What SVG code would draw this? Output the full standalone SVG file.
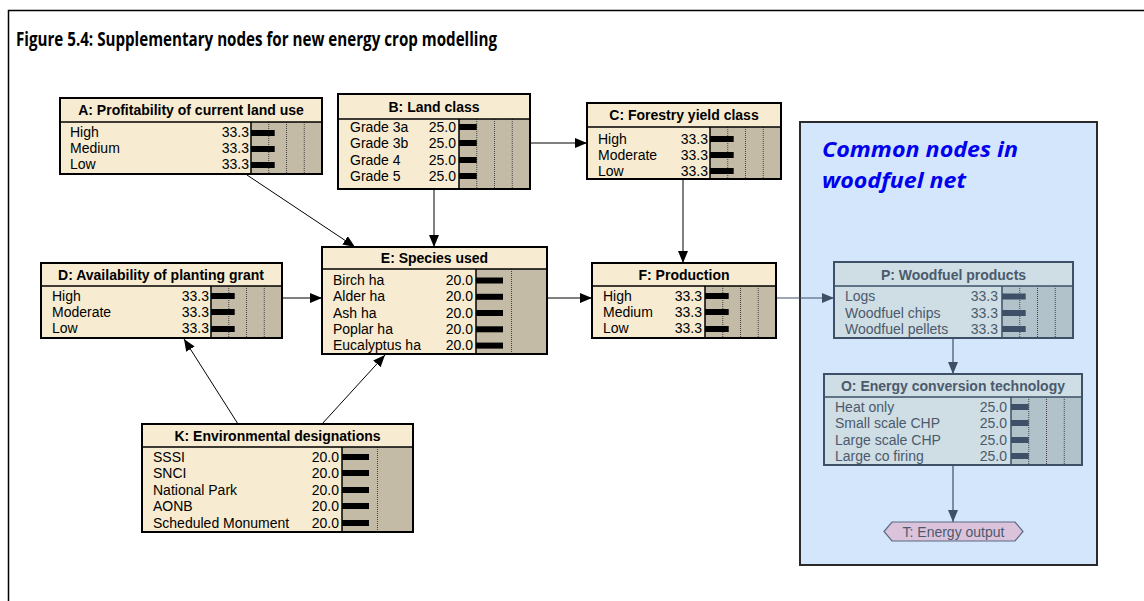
<svg xmlns="http://www.w3.org/2000/svg" width="1144" height="601" viewBox="0 0 1144 601">
<defs>
<style>
.frame{fill:#fff;stroke:#000;stroke-width:1.5}
.nbox{fill:#f7ecd2;stroke:#000;stroke-width:2}
.npanel{fill:#c4bba7}
.grid{stroke:#444;stroke-width:1;stroke-dasharray:1,1}
.bar{fill:#000}
.hdr{font-family:"Liberation Sans",Arial,sans-serif;font-size:14px;font-weight:bold;fill:#000;text-anchor:middle}
.lbl{font-family:"Liberation Sans",Arial,sans-serif;font-size:14px;fill:#000}
.val{font-family:"Liberation Sans",Arial,sans-serif;font-size:14px;fill:#000;text-anchor:end}
.bbox{fill:#cfdde4;stroke:#3d5068;stroke-width:2}
.bpanel{fill:#b1c2ca}
.bbar{fill:#3d5068}
.bhdr{font-family:"Liberation Sans",Arial,sans-serif;font-size:14px;font-weight:bold;fill:#4a5a6c;text-anchor:middle}
.blbl{font-family:"Liberation Sans",Arial,sans-serif;font-size:14px;fill:#4a5a6c}
.bval{font-family:"Liberation Sans",Arial,sans-serif;font-size:14px;fill:#4a5a6c;text-anchor:end}
.edge{stroke:#000;stroke-width:1;fill:none}
.bedge{stroke:#3d5068;stroke-width:1.2;fill:none}
</style>
<marker id="ah" viewBox="0 0 12 10" refX="12" refY="5" markerWidth="12" markerHeight="10" markerUnits="userSpaceOnUse" orient="auto">
<path d="M0,0 L12,5 L0,10 z" fill="#000"/>
</marker>
<marker id="bah" viewBox="0 0 12 10" refX="12" refY="5" markerWidth="12" markerHeight="10" markerUnits="userSpaceOnUse" orient="auto">
<path d="M0,0 L12,5 L0,10 z" fill="#3d5068"/>
</marker>
</defs>

<rect x="8.5" y="10.5" width="1150" height="600" class="frame"/>
<text x="16" y="46" font-family="'Open Sans','Liberation Sans',sans-serif" font-size="19" font-weight="bold" textLength="481" lengthAdjust="spacingAndGlyphs">Figure 5.4: Supplementary nodes for new energy crop modelling</text>

<g id="panel">
<rect x="800" y="122" width="297" height="443" fill="#d4e6fb" stroke="#2a2a2a" stroke-width="2"/>
<text x="822" y="157" font-family="'Open Sans','Liberation Sans',sans-serif" font-size="22" font-weight="bold" font-style="italic" fill="#0000ee" textLength="196" lengthAdjust="spacingAndGlyphs">Common nodes in</text>
<text x="822" y="188" font-family="'Open Sans','Liberation Sans',sans-serif" font-size="22" font-weight="bold" font-style="italic" fill="#0000ee" textLength="144" lengthAdjust="spacingAndGlyphs">woodfuel net</text>
</g>

<g id="connectors">
<line x1="247" y1="175" x2="355" y2="247" class="edge" marker-end="url(#ah)"/>
<line x1="434" y1="189" x2="434" y2="247" class="edge" marker-end="url(#ah)"/>
<line x1="530" y1="143" x2="587" y2="143" class="edge" marker-end="url(#ah)"/>
<line x1="683" y1="179" x2="683" y2="263" class="edge" marker-end="url(#ah)"/>
<line x1="282" y1="298" x2="322" y2="298" class="edge" marker-end="url(#ah)"/>
<line x1="547" y1="298" x2="592" y2="298" class="edge" marker-end="url(#ah)"/>
<line x1="238" y1="424" x2="184" y2="339" class="edge" marker-end="url(#ah)"/>
<line x1="322" y1="424" x2="385" y2="355" class="edge" marker-end="url(#ah)"/>
<line x1="776" y1="298" x2="834" y2="298" class="bedge" marker-end="url(#bah)"/>
<line x1="953" y1="338" x2="953" y2="374" class="bedge" marker-end="url(#bah)"/>
<line x1="953" y1="465" x2="953" y2="522" class="bedge" marker-end="url(#bah)"/>
</g>

<g id="nodeA">
<rect x="60" y="98" width="262" height="76" class="nbox"/>
<rect x="251" y="122" width="71" height="52" class="npanel"/>
<line x1="268.75" y1="122" x2="268.75" y2="174" class="grid"/>
<line x1="286.5" y1="122" x2="286.5" y2="174" class="grid"/>
<line x1="304.25" y1="122" x2="304.25" y2="174" class="grid"/>
<line x1="60" y1="122" x2="322" y2="122" stroke="#000" stroke-width="1.5"/>
<line x1="251" y1="122" x2="251" y2="174" stroke="#000" stroke-width="1.5"/>
<rect x="60" y="98" width="262" height="76" fill="none" stroke="#000" stroke-width="2"/>
<text x="191" y="115" class="hdr">A: Profitability of current land use</text>
<text x="70" y="137" class="lbl">High</text><text x="249" y="137" class="val">33.3</text><rect x="251" y="130" width="23.7" height="6" class="bar"/>
<text x="70" y="153" class="lbl">Medium</text><text x="249" y="153" class="val">33.3</text><rect x="251" y="146" width="23.7" height="6" class="bar"/>
<text x="70" y="169" class="lbl">Low</text><text x="249" y="169" class="val">33.3</text><rect x="251" y="162" width="23.7" height="6" class="bar"/>
</g>

<g id="nodeB">
<rect x="338" y="94" width="192" height="95" class="nbox"/>
<rect x="459" y="119" width="71" height="70" class="npanel"/>
<line x1="476.75" y1="119" x2="476.75" y2="189" class="grid"/>
<line x1="494.5" y1="119" x2="494.5" y2="189" class="grid"/>
<line x1="512.25" y1="119" x2="512.25" y2="189" class="grid"/>
<line x1="338" y1="119" x2="530" y2="119" stroke="#000" stroke-width="1.5"/>
<line x1="459" y1="119" x2="459" y2="189" stroke="#000" stroke-width="1.5"/>
<rect x="338" y="94" width="192" height="95" fill="none" stroke="#000" stroke-width="2"/>
<text x="434" y="112" class="hdr">B: Land class</text>
<text x="350" y="132" class="lbl">Grade 3a</text><text x="456" y="132" class="val">25.0</text><rect x="459" y="124" width="17.75" height="6" class="bar"/>
<text x="350" y="148" class="lbl">Grade 3b</text><text x="456" y="148" class="val">25.0</text><rect x="459" y="140" width="17.75" height="6" class="bar"/>
<text x="350" y="165" class="lbl">Grade 4</text><text x="456" y="165" class="val">25.0</text><rect x="459" y="157" width="17.75" height="6" class="bar"/>
<text x="350" y="181" class="lbl">Grade 5</text><text x="456" y="181" class="val">25.0</text><rect x="459" y="173" width="17.75" height="6" class="bar"/>
</g>

<g id="nodeC">
<rect x="587" y="103" width="194" height="76" class="nbox"/>
<rect x="710" y="127" width="71" height="52" class="npanel"/>
<line x1="727.75" y1="127" x2="727.75" y2="179" class="grid"/>
<line x1="745.5" y1="127" x2="745.5" y2="179" class="grid"/>
<line x1="763.25" y1="127" x2="763.25" y2="179" class="grid"/>
<line x1="587" y1="127" x2="781" y2="127" stroke="#000" stroke-width="1.5"/>
<line x1="710" y1="127" x2="710" y2="179" stroke="#000" stroke-width="1.5"/>
<rect x="587" y="103" width="194" height="76" fill="none" stroke="#000" stroke-width="2"/>
<text x="684" y="120" class="hdr">C: Forestry yield class</text>
<text x="598" y="144" class="lbl">High</text><text x="708" y="144" class="val">33.3</text><rect x="710" y="136" width="23.7" height="6" class="bar"/>
<text x="598" y="160" class="lbl">Moderate</text><text x="708" y="160" class="val">33.3</text><rect x="710" y="152" width="23.7" height="6" class="bar"/>
<text x="598" y="176" class="lbl">Low</text><text x="708" y="176" class="val">33.3</text><rect x="710" y="168" width="23.7" height="6" class="bar"/>
</g>

<g id="nodeD">
<rect x="41" y="263" width="241" height="75" class="nbox"/>
<rect x="211" y="286" width="71" height="52" class="npanel"/>
<line x1="228.75" y1="286" x2="228.75" y2="338" class="grid"/>
<line x1="246.5" y1="286" x2="246.5" y2="338" class="grid"/>
<line x1="264.25" y1="286" x2="264.25" y2="338" class="grid"/>
<line x1="41" y1="286" x2="282" y2="286" stroke="#000" stroke-width="1.5"/>
<line x1="211" y1="286" x2="211" y2="338" stroke="#000" stroke-width="1.5"/>
<rect x="41" y="263" width="241" height="75" fill="none" stroke="#000" stroke-width="2"/>
<text x="161" y="280" class="hdr">D: Availability of planting grant</text>
<text x="52" y="301" class="lbl">High</text><text x="209" y="301" class="val">33.3</text><rect x="211" y="293" width="23.7" height="6" class="bar"/>
<text x="52" y="317" class="lbl">Moderate</text><text x="209" y="317" class="val">33.3</text><rect x="211" y="309" width="23.7" height="6" class="bar"/>
<text x="52" y="333" class="lbl">Low</text><text x="209" y="333" class="val">33.3</text><rect x="211" y="326" width="23.7" height="6" class="bar"/>
</g>

<g id="nodeE">
<rect x="322" y="247" width="225" height="107" class="nbox"/>
<rect x="476" y="269" width="71" height="85" class="npanel"/>
<line x1="511.5" y1="269" x2="511.5" y2="354" class="grid"/>
<line x1="322" y1="269" x2="547" y2="269" stroke="#000" stroke-width="1.5"/>
<line x1="476" y1="269" x2="476" y2="354" stroke="#000" stroke-width="1.5"/>
<rect x="322" y="247" width="225" height="107" fill="none" stroke="#000" stroke-width="2"/>
<text x="434.5" y="263" class="hdr">E: Species used</text>
<text x="333" y="285" class="lbl">Birch ha</text><text x="473" y="285" class="val">20.0</text><rect x="476" y="277.5" width="27" height="6" class="bar"/>
<text x="333" y="301" class="lbl">Alder ha</text><text x="473" y="301" class="val">20.0</text><rect x="476" y="293.8" width="27" height="6" class="bar"/>
<text x="333" y="317.5" class="lbl">Ash ha</text><text x="473" y="317.5" class="val">20.0</text><rect x="476" y="310" width="27" height="6" class="bar"/>
<text x="333" y="334" class="lbl">Poplar ha</text><text x="473" y="334" class="val">20.0</text><rect x="476" y="326.3" width="27" height="6" class="bar"/>
<text x="333" y="350" class="lbl">Eucalyptus ha</text><text x="473" y="350" class="val">20.0</text><rect x="476" y="342.6" width="27" height="6" class="bar"/>
</g>

<g id="nodeF">
<rect x="592" y="263" width="184" height="75" class="nbox"/>
<rect x="705" y="286" width="71" height="52" class="npanel"/>
<line x1="722.75" y1="286" x2="722.75" y2="338" class="grid"/>
<line x1="740.5" y1="286" x2="740.5" y2="338" class="grid"/>
<line x1="758.25" y1="286" x2="758.25" y2="338" class="grid"/>
<line x1="592" y1="286" x2="776" y2="286" stroke="#000" stroke-width="1.5"/>
<line x1="705" y1="286" x2="705" y2="338" stroke="#000" stroke-width="1.5"/>
<rect x="592" y="263" width="184" height="75" fill="none" stroke="#000" stroke-width="2"/>
<text x="684" y="280" class="hdr">F: Production</text>
<text x="603" y="301" class="lbl">High</text><text x="702" y="301" class="val">33.3</text><rect x="705" y="293" width="23.7" height="6" class="bar"/>
<text x="603" y="317" class="lbl">Medium</text><text x="702" y="317" class="val">33.3</text><rect x="705" y="309" width="23.7" height="6" class="bar"/>
<text x="603" y="333" class="lbl">Low</text><text x="702" y="333" class="val">33.3</text><rect x="705" y="326" width="23.7" height="6" class="bar"/>
</g>

<g id="nodeK">
<rect x="142" y="424" width="271" height="108" class="nbox"/>
<rect x="342" y="447" width="71" height="85" class="npanel"/>
<line x1="377.5" y1="447" x2="377.5" y2="532" class="grid"/>
<line x1="142" y1="447" x2="413" y2="447" stroke="#000" stroke-width="1.5"/>
<line x1="342" y1="447" x2="342" y2="532" stroke="#000" stroke-width="1.5"/>
<rect x="142" y="424" width="271" height="108" fill="none" stroke="#000" stroke-width="2"/>
<text x="277.5" y="441" class="hdr">K: Environmental designations</text>
<text x="153" y="461.5" class="lbl">SSSI</text><text x="339" y="461.5" class="val">20.0</text><rect x="342" y="454" width="27" height="6" class="bar"/>
<text x="153" y="477.5" class="lbl">SNCI</text><text x="339" y="477.5" class="val">20.0</text><rect x="342" y="470" width="27" height="6" class="bar"/>
<text x="153" y="494.5" class="lbl">National Park</text><text x="339" y="494.5" class="val">20.0</text><rect x="342" y="487" width="27" height="6" class="bar"/>
<text x="153" y="510.5" class="lbl">AONB</text><text x="339" y="510.5" class="val">20.0</text><rect x="342" y="503" width="27" height="6" class="bar"/>
<text x="153" y="527.5" class="lbl">Scheduled Monument</text><text x="339" y="527.5" class="val">20.0</text><rect x="342" y="520" width="27" height="6" class="bar"/>
</g>

<g id="nodeP">
<rect x="834" y="262" width="239" height="76" class="bbox"/>
<rect x="1002" y="286" width="71" height="52" class="bpanel"/>
<line x1="1019.75" y1="286" x2="1019.75" y2="338" class="grid"/>
<line x1="1037.5" y1="286" x2="1037.5" y2="338" class="grid"/>
<line x1="1055.25" y1="286" x2="1055.25" y2="338" class="grid"/>
<line x1="834" y1="286" x2="1073" y2="286" stroke="#3d5068" stroke-width="1.5"/>
<line x1="1002" y1="286" x2="1002" y2="338" stroke="#3d5068" stroke-width="1.5"/>
<rect x="834" y="262" width="239" height="76" fill="none" stroke="#3d5068" stroke-width="2"/>
<text x="953.5" y="280" class="bhdr">P: Woodfuel products</text>
<text x="845" y="301" class="blbl">Logs</text><text x="998" y="301" class="bval">33.3</text><rect x="1002" y="293.5" width="23.7" height="6" class="bbar"/>
<text x="845" y="317.5" class="blbl">Woodfuel chips</text><text x="998" y="317.5" class="bval">33.3</text><rect x="1002" y="310" width="23.7" height="6" class="bbar"/>
<text x="845" y="333.5" class="blbl">Woodfuel pellets</text><text x="998" y="333.5" class="bval">33.3</text><rect x="1002" y="326" width="23.7" height="6" class="bbar"/>
</g>

<g id="nodeO">
<rect x="824" y="374" width="258" height="91" class="bbox"/>
<rect x="1011" y="397" width="71" height="68" class="bpanel"/>
<line x1="1028.75" y1="397" x2="1028.75" y2="465" class="grid"/>
<line x1="1046.5" y1="397" x2="1046.5" y2="465" class="grid"/>
<line x1="1064.25" y1="397" x2="1064.25" y2="465" class="grid"/>
<line x1="824" y1="397" x2="1082" y2="397" stroke="#3d5068" stroke-width="1.5"/>
<line x1="1011" y1="397" x2="1011" y2="465" stroke="#3d5068" stroke-width="1.5"/>
<rect x="824" y="374" width="258" height="91" fill="none" stroke="#3d5068" stroke-width="2"/>
<text x="953" y="391" class="bhdr">O: Energy conversion technology</text>
<text x="835" y="411.5" class="blbl">Heat only</text><text x="1007" y="411.5" class="bval">25.0</text><rect x="1011" y="404" width="17.75" height="6" class="bbar"/>
<text x="835" y="427.5" class="blbl">Small scale CHP</text><text x="1007" y="427.5" class="bval">25.0</text><rect x="1011" y="420" width="17.75" height="6" class="bbar"/>
<text x="835" y="444.5" class="blbl">Large scale CHP</text><text x="1007" y="444.5" class="bval">25.0</text><rect x="1011" y="437" width="17.75" height="6" class="bbar"/>
<text x="835" y="460.5" class="blbl">Large co firing</text><text x="1007" y="460.5" class="bval">25.0</text><rect x="1011" y="453" width="17.75" height="6" class="bbar"/>
</g>

<g id="nodeT">
<polygon points="884,531.5 892,522 1015,522 1023,531.5 1015,541 892,541" fill="#dcc3dc" stroke="#5a6a82" stroke-width="1.2"/>
<text x="953.5" y="536.5" class="blbl" text-anchor="middle">T: Energy output</text>
</g>
</svg>
